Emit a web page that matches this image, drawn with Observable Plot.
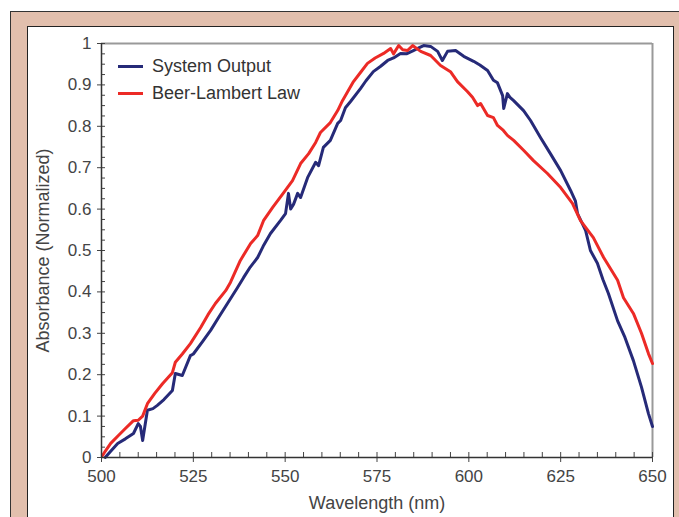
<!DOCTYPE html>
<html>
<head>
<meta charset="utf-8">
<script src="https://cdn.jsdelivr.net/npm/d3@7"></script>
<script src="https://cdn.jsdelivr.net/npm/@observablehq/plot@0.6"></script>
<style>
html, body { margin: 0; padding: 0; background: #fff; overflow: hidden; width: 679px; height: 517px; }
#outer { position: absolute; left: 10px; top: 11px; width: 720px; height: 600px; background: #e2bfad; border: 1px solid #333; box-sizing: border-box; }
#inner { position: absolute; left: 27px; top: 26px; width: 647px; height: 600px; background: #fff; border: 1.5px solid #222; box-sizing: border-box; }
#chart { position: absolute; left: 0; top: 0; }
#legend { position: absolute; left: 118px; top: 53px; font: 18px "Liberation Sans", Arial, sans-serif; color: #333; }
#legend .row { display: flex; align-items: center; height: 27px; }
#legend .sw { width: 25px; height: 3px; margin-right: 9px; }
</style>
</head>
<body>
<div id="outer"></div>
<div id="inner"></div>
<div id="chart"></div>
<div id="legend"></div>
<script>
// ---- data ----
const seriesNames = ["System Output", "Beer-Lambert Law"];
const seriesColors = ["#262a78", "#ec2a26"];

const systemWavelength = [501, 502.5, 504.4, 506.5, 508.7, 510, 510.6, 511.2, 512.5, 514, 515.2, 517, 519.3, 520.1, 522, 524.2, 525, 527.5, 529.7, 532, 534.5, 537, 538.7, 540.5, 542.5, 544, 546, 548.7, 550.1, 550.9, 551.5, 552.3, 553.4, 554.2, 556.1, 558.3, 559.1, 560.4, 562.3, 564.3, 565.1, 566.4, 567.8, 570.5, 572, 574, 576, 577.9, 579.5, 581.4, 583, 584.9, 586.5, 587.7, 589.6, 591.5, 592.8, 594.2, 596.4, 598.6, 601.3, 603, 605.1, 606.7, 607.8, 609.2, 609.5, 610.5, 611.2, 612.2, 614.9, 616.8, 619.5, 622.2, 625, 627.7, 629, 629.6, 631.8, 633.1, 635, 636.5, 638, 640.5, 642.5, 644.8, 647, 648.9, 650];
const systemAbsorbance = [0, 0.015, 0.034, 0.045, 0.058, 0.082, 0.075, 0.041, 0.114, 0.118, 0.126, 0.14, 0.162, 0.203, 0.198, 0.246, 0.25, 0.28, 0.307, 0.34, 0.375, 0.41, 0.435, 0.46, 0.483, 0.51, 0.541, 0.572, 0.589, 0.638, 0.6, 0.612, 0.638, 0.628, 0.676, 0.713, 0.705, 0.749, 0.766, 0.807, 0.814, 0.845, 0.86, 0.891, 0.91, 0.932, 0.945, 0.959, 0.965, 0.976, 0.975, 0.983, 0.99, 0.995, 0.993, 0.981, 0.959, 0.981, 0.983, 0.969, 0.957, 0.948, 0.935, 0.911, 0.905, 0.874, 0.843, 0.879, 0.87, 0.862, 0.838, 0.814, 0.773, 0.734, 0.693, 0.645, 0.62, 0.589, 0.548, 0.5, 0.469, 0.43, 0.396, 0.33, 0.29, 0.234, 0.17, 0.106, 0.075];

const beerWavelength = [500.3, 501, 502.5, 504.6, 506.5, 508.7, 510, 511.2, 512.5, 514.5, 516.6, 519.3, 520.1, 522, 524.2, 527, 529, 531, 533.8, 535.1, 537.8, 540.6, 542.5, 544.1, 546.6, 549.6, 552, 554.2, 556.4, 558.3, 559.6, 562.3, 564.3, 565.6, 568.6, 570.5, 572.4, 574.5, 576.8, 578.7, 579.5, 580.9, 582, 583.3, 584.7, 586.9, 589.6, 592.3, 595, 596.9, 599.6, 601, 602.4, 603.2, 605.1, 606.7, 607.8, 609.4, 610.5, 612.2, 614.9, 617.6, 621.4, 625, 628.2, 630.4, 633.9, 636.7, 640.5, 642.1, 644.8, 647, 648.9, 650];
const beerAbsorbance = [0.005, 0.015, 0.034, 0.053, 0.07, 0.089, 0.09, 0.1, 0.13, 0.155, 0.178, 0.205, 0.23, 0.25, 0.275, 0.314, 0.345, 0.372, 0.403, 0.423, 0.476, 0.517, 0.536, 0.572, 0.604, 0.64, 0.669, 0.71, 0.734, 0.761, 0.785, 0.809, 0.838, 0.862, 0.908, 0.93, 0.952, 0.965, 0.976, 0.988, 0.975, 0.995, 0.985, 0.983, 0.995, 0.981, 0.971, 0.947, 0.932, 0.908, 0.884, 0.87, 0.85, 0.855, 0.826, 0.821, 0.802, 0.79, 0.778, 0.766, 0.742, 0.717, 0.686, 0.652, 0.614, 0.572, 0.531, 0.483, 0.428, 0.386, 0.348, 0.3, 0.251, 0.227];

const xMajorTicks = [500, 525, 550, 575, 600, 625, 650];
const xMinorTicks = d3.range(500, 650.001, 5);
const yMajorTicks = [0, 0.1, 0.2, 0.3, 0.4, 0.5, 0.6, 0.7, 0.8, 0.9, 1];
const yMinorTicks = d3.range(0, 1.0001, 0.025);
const xLabel = "Wavelength (nm)";
const yLabel = "Absorbance (Normalized)";

// ---- build table ----
const rows = [];
systemWavelength.forEach((w, i) => rows.push({series: seriesNames[0], w, a: systemAbsorbance[i]}));
beerWavelength.forEach((w, i) => rows.push({series: seriesNames[1], w, a: beerAbsorbance[i]}));

const W = 679, H = 517, mL = 101, mR = 27, mT = 43, mB = 60;
const plotW = W - mL - mR, plotH = H - mT - mB;
const font = "'Liberation Sans', Arial, sans-serif";

const chart = Plot.plot({
  width: W, height: H,
  marginLeft: mL, marginRight: mR, marginTop: mT, marginBottom: mB,
  style: {background: "transparent", fontSize: "17px", fontFamily: font, color: "#444"},
  x: {domain: [500, 650]},
  y: {domain: [0, 1]},
  color: {domain: seriesNames, range: seriesColors},
  marks: [
    Plot.ruleY([1], {stroke: "#999", strokeWidth: 2}),
    Plot.ruleX([650], {stroke: "#999", strokeWidth: 2}),
    Plot.tickY(yMinorTicks, {y: d => d, insetRight: plotW - 4, stroke: "#444", strokeWidth: 1}),
    Plot.tickX(xMinorTicks, {x: d => d, insetTop: plotH - 5, stroke: "#444", strokeWidth: 1}),
    Plot.axisY({ticks: yMajorTicks, tickSize: 4, tickPadding: 6, tickFormat: d => String(+d.toFixed(1)),
      label: null, stroke: "#444", fill: "#444"}),
    Plot.axisX({ticks: xMajorTicks, tickSize: 5, tickPadding: 7, tickFormat: d => String(d),
      label: null, stroke: "#444", fill: "#444"}),
    Plot.axisY({ticks: [], label: yLabel, labelAnchor: "center", labelArrow: "none", labelOffset: 65, fontSize: 18, fill: "#444"}),
    Plot.axisX({ticks: [], label: xLabel, labelAnchor: "center", labelArrow: "none", labelOffset: 51, fontSize: 18, fill: "#444"}),
    Plot.line(rows, {x: "w", y: "a", z: "series", stroke: "series", strokeWidth: 3, strokeLinejoin: "round"}),
    Plot.ruleX([500], {stroke: "#333", strokeWidth: 1.5}),
    Plot.ruleY([0], {stroke: "#333", strokeWidth: 1.5})
  ]
});
document.getElementById("chart").appendChild(chart);

const legend = document.getElementById("legend");
seriesNames.forEach((name, i) => {
  const row = document.createElement("div");
  row.className = "row";
  const sw = document.createElement("span");
  sw.className = "sw";
  sw.style.background = seriesColors[i];
  const t = document.createElement("span");
  t.textContent = name;
  row.appendChild(sw); row.appendChild(t);
  legend.appendChild(row);
});
</script>
</body>
</html>
